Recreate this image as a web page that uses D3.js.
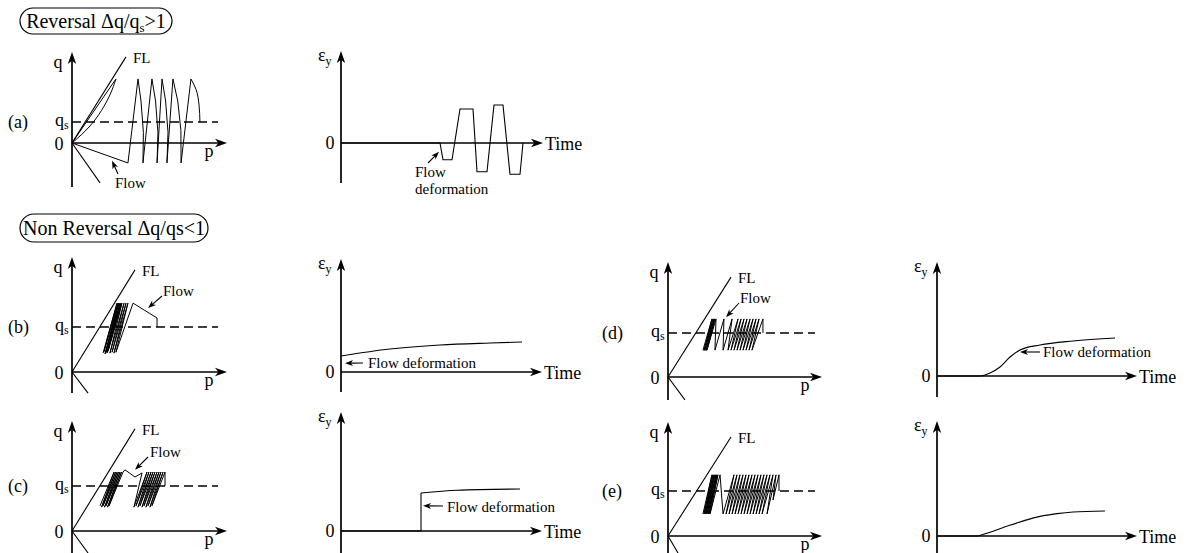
<!DOCTYPE html>
<html>
<head>
<meta charset="utf-8">
<script src="https://cdn.jsdelivr.net/npm/d3@7"></script>
<style>
  html, body { margin: 0; padding: 0; background: #fff; }
  svg { display: block; font-family: "Liberation Serif", "Times New Roman", serif; }
</style>
</head>
<body>
<svg id="fig" width="1189" height="553"></svg>
<script>
// ---------------------------------------------------------------------------
// Data: stress paths in the q–p plane (p in arbitrary units 0–100, q as q/qs)
// and strain histories (time 0–100, strain in arbitrary units).
// ---------------------------------------------------------------------------
const panelNames = ["(a)", "(b)", "(c)", "(d)", "(e)"];

// end point of the failure line FL, per panel
const failureLineP = [36, 42, 42, 42, 42];
const failureLineQ = [4.1, 2.27, 2.27, 2.27, 2.2];

// short line drawn below the origin, per panel
const lowerLineP = [18.7, 10.7, 10.7, 11.3, 6.7];
const lowerLineQ = [-1.9, -0.47, -0.49, -0.52, -0.38];

// (a) reversal loading
const pathA_straight = [[0, 0], [29.3, 3.05]];
const pathA_curved = [[0, 0], [12, 0.75], [20, 1.55], [26, 2.35], [29.3, 3.05]];
const pathA_cycles = [
  [0, 0], [37.3, -0.95], [44, 3.05], [46, 2.0], [47.6, 0.5], [47.3, -0.95],
  [53.3, 3.05], [55.7, 2.0], [57.3, 0.5], [56.7, -0.95],
  [60, 3.05], [62.4, 2.0], [64, 0.5], [63.3, -0.95],
  [67.3, 3.05], [70.5, 2.0], [72.6, 0.6], [72.7, -0.95], [79.3, 3.05]
];
const pathA_end = [[79.3, 3.05], [82.7, 2.55], [84.7, 1.8], [85.3, 1.0]];

// (b) non reversal, flow after a few cycles
const pathB = [
  [20.7, 0.42], [30, 1.53], [21.3, 0.45], [30.7, 1.53], [22, 0.40], [31.3, 1.53],
  [22.7, 0.44], [32, 1.53], [23.3, 0.42], [32.7, 1.53], [24, 0.46], [33.3, 1.53],
  [25.3, 0.42], [34.7, 1.53], [26.7, 0.44], [36, 1.53], [28, 0.42], [37.3, 1.53],
  [29.3, 0.44], [40.7, 1.53], [56.7, 1.2], [56.7, 1.0]
];

// (c) non reversal, flow in the middle of loading
const pathC = [
  [18.7, 0.56], [28, 1.31], [19.7, 0.53], [29, 1.31], [20.7, 0.56], [30, 1.31],
  [21.7, 0.53], [31, 1.31], [22.7, 0.56], [32, 1.31], [23.7, 0.53], [33, 1.31],
  [24.7, 0.56], [34, 1.31], [35.3, 1.36], [42, 1.2], [46.7, 1.29],
  [41.3, 0.53], [50, 1.31], [42.7, 0.56], [51.3, 1.31], [44, 0.53], [52.7, 1.31],
  [45.3, 0.56], [54, 1.31], [46.7, 0.53], [55.3, 1.31], [48, 0.56], [56.7, 1.31],
  [49.3, 0.53], [58, 1.31], [50.7, 0.56], [59.3, 1.31], [52, 0.53], [60.7, 1.31],
  [53.3, 0.56], [62, 1.31], [62, 1.0]
];

// (d) non reversal, gradual flow
const pathD = [
  [23.3, 0.61], [29.3, 1.32], [24, 0.6], [30, 1.32], [24.7, 0.62], [30.7, 1.32],
  [25.3, 0.6], [31.3, 1.32], [26, 0.61], [32, 1.32], [31.3, 0.61], [37.3, 1.32],
  [36.7, 0.61], [42.7, 1.32], [40, 0.61], [46.7, 1.32], [42, 0.61], [48.7, 1.32],
  [44, 0.61], [50.7, 1.32], [46, 0.61], [52.7, 1.32], [48, 0.61], [54.7, 1.32],
  [50, 0.61], [56.7, 1.32], [52, 0.61], [58.7, 1.32], [54, 0.61], [60.7, 1.32],
  [56, 0.61], [63.3, 1.32], [63.3, 1.0]
];

// (e) non reversal, no distinct flow
const pathE = [
  [23.3, 0.49], [29.3, 1.36], [24, 0.49], [30, 1.36], [24.7, 0.49], [30.7, 1.36],
  [25.3, 0.49], [31.3, 1.36], [26, 0.49], [32, 1.36], [26.7, 0.49], [32.7, 1.36],
  [27.3, 0.49], [33.3, 1.36], [28, 0.49], [34.7, 1.36],
  [36.7, 0.49], [44, 1.36], [38.7, 0.49], [46, 1.36], [40.7, 0.49], [48, 1.36],
  [42.7, 0.49], [50, 1.36], [44.7, 0.49], [52, 1.36], [46.7, 0.49], [54, 1.36],
  [48.7, 0.49], [56, 1.36], [50.7, 0.49], [58, 1.36], [52.7, 0.49], [60, 1.36],
  [54.7, 0.49], [62, 1.36], [56.7, 0.49], [64, 1.36], [58.7, 0.49], [66, 1.36],
  [60.7, 0.49], [68, 1.36], [62.7, 0.49], [70, 1.36], [66, 0.49], [72, 1.36],
  [70, 0.8], [74, 1.36], [74, 1.0]
];

// strain histories [time, strain]
const strainA = [
  [0, 0], [49.5, 0], [51, -0.42], [55.5, -0.42], [59.5, 0.85], [66, 0.85],
  [68, -0.72], [73, -0.72], [76.5, 0.95], [81, 0.95], [84.5, -0.78], [89.5, -0.78], [91, 0]
];
const strainB = [[0, 0.4], [24.5, 0.575], [49.5, 0.675], [74.5, 0.725], [90.5, 0.75]];
const strainC_jump = [[0, 0], [40, 0], [40, 0.95]];
const strainC_rest = [[40, 0.95], [58, 1.02], [89.5, 1.05]];
const strainD = [
  [0, 0], [21.5, 0], [26.5, 0.075], [31.5, 0.225], [36.5, 0.475], [41.5, 0.65],
  [51.5, 0.775], [68, 0.875], [89, 0.95]
];
const strainE_flat = [[0, 0], [20.5, 0]];
const strainE_rise = [[20.5, 0], [28, 0.12], [36, 0.26], [44, 0.39], [51.5, 0.49], [60, 0.56], [68, 0.6], [84, 0.625]];

// ---------------------------------------------------------------------------
const svg = d3.select("#fig");
const FONT = 18;

function arrowHead(g, x, y, angle, len = 12, hw = 4.2) {
  const notch = len * 0.72;
  g.append("path")
    .attr("d", `M0,0 L${-len},${-hw} L${-notch},0 L${-len},${hw} Z`)
    .attr("transform", `translate(${x},${y}) rotate(${angle})`)
    .attr("fill", "#000");
}

function noteArrow(g, x1, y1, x2, y2) {
  const ang = Math.atan2(y2 - y1, x2 - x1) * 180 / Math.PI;
  const len = Math.hypot(x2 - x1, y2 - y1);
  const ux = (x2 - x1) / len, uy = (y2 - y1) / len;
  g.append("line").attr("x1", x1).attr("y1", y1)
    .attr("x2", x2 - ux * 5).attr("y2", y2 - uy * 5)
    .attr("stroke", "#000").attr("stroke-width", 1.1);
  arrowHead(g, x2, y2, ang, 8, 3);
}

function text(g, x, y, s, size = FONT, anchor = "start") {
  return g.append("text").attr("x", x).attr("y", y)
    .attr("font-size", size).attr("text-anchor", anchor).text(s);
}

function titleBox(x, y, w, h, build) {
  const g = svg.append("g");
  g.append("rect").attr("x", x).attr("y", y).attr("width", w).attr("height", h)
    .attr("rx", h / 2).attr("ry", h / 2)
    .attr("fill", "none").attr("stroke", "#000").attr("stroke-width", 1.2);
  const t = g.append("text").attr("x", x + w / 2).attr("y", y + h / 2 + 7)
    .attr("font-size", 20).attr("text-anchor", "middle");
  build(t);
}

// q–p panel
function qpPanel(i, L, paths) {
  const g = svg.append("g");
  const x = d3.scaleLinear().domain([0, 100]).range([L.ox, L.ox + 150]);
  const y = d3.scaleLinear().domain([0, 1]).range([L.oy, L.qsY]);
  const line = d3.line().x(d => x(d[0])).y(d => y(d[1]));

  // axes
  g.append("line").attr("x1", x(0)).attr("x2", x(0)).attr("y1", L.bottom).attr("y2", L.top + 6)
    .attr("stroke", "#000").attr("stroke-width", 1.7);
  arrowHead(g, x(0), L.top, -90);
  g.append("line").attr("x1", x(0)).attr("x2", L.pTip - 6).attr("y1", y(0)).attr("y2", y(0))
    .attr("stroke", "#000").attr("stroke-width", 1.7);
  arrowHead(g, L.pTip, y(0), 0);

  // q_s level
  g.append("line").attr("x1", x(0)).attr("x2", L.dashEnd).attr("y1", y(1)).attr("y2", y(1))
    .attr("stroke", "#000").attr("stroke-width", 1.3).attr("stroke-dasharray", "9,5");

  // failure line and lower line
  g.append("path").attr("d", line([[0, 0], [failureLineP[i], failureLineQ[i]]]))
    .attr("fill", "none").attr("stroke", "#000").attr("stroke-width", 1.1);
  g.append("path").attr("d", line([[0, 0], [lowerLineP[i], lowerLineQ[i]]]))
    .attr("fill", "none").attr("stroke", "#000").attr("stroke-width", 1.1);

  // stress paths
  paths.forEach(p => {
    g.append("path").attr("d", line.curve(p.curve || d3.curveLinear)(p.data))
      .attr("fill", "none").attr("stroke", "#000").attr("stroke-width", 1)
      .attr("stroke-linejoin", "round");
  });
  line.curve(d3.curveLinear);

  // labels
  text(g, x(0) - 14, L.top + 16, "q", FONT, "middle");
  const qs = text(g, x(0) - 17, y(1) + 4, "q");
  qs.append("tspan").attr("font-size", 12).attr("dy", 3).text("s");
  text(g, x(0) - 13, y(0) + 7, "0", FONT, "middle");
  text(g, x(0) + 137, y(0) + 14, "p", FONT, "middle");
  text(g, x(failureLineP[i]) + 7, y(failureLineQ[i]) + 6, "FL", 15);
  text(g, L.labelX, y(1) + 6, panelNames[i]);
  return { g, x, y };
}

// strain–time panel
function strainPanel(L, series) {
  const g = svg.append("g");
  const x = d3.scaleLinear().domain([0, 100]).range([L.ox, L.ox + 200]);
  const y = d3.scaleLinear().domain([0, 1]).range([L.oy, L.oy - 40]);
  const line = d3.line().x(d => x(d[0])).y(d => y(d[1]));

  g.append("line").attr("x1", x(0)).attr("x2", x(0)).attr("y1", L.bottom).attr("y2", L.top + 6)
    .attr("stroke", "#000").attr("stroke-width", 1.7);
  arrowHead(g, x(0), L.top, -90);
  g.append("line").attr("x1", x(0)).attr("x2", L.tip - 6).attr("y1", y(0)).attr("y2", y(0))
    .attr("stroke", "#000").attr("stroke-width", 1.7);
  arrowHead(g, L.tip, y(0), 0);

  series.forEach(s => {
    g.append("path").attr("d", line.curve(s.curve || d3.curveLinear)(s.data))
      .attr("fill", "none").attr("stroke", "#000").attr("stroke-width", 1.1);
  });

  const eps = text(g, x(0) - 23, L.top + 10, "ε");
  eps.append("tspan").attr("font-size", 12).attr("dy", 4).text("y");
  text(g, x(0) - 11, y(0) + 6, "0", FONT, "middle");
  text(g, L.tip + 2, y(0) + 7, "Time");
  return { g, x, y };
}

// ---------------------------------------------------------------------------
// Headers
titleBox(20, 8, 152, 26, t => {
  t.append("tspan").text("Reversal Δq/q");
  t.append("tspan").attr("font-size", 13).attr("dy", 4).text("s");
  t.append("tspan").attr("dy", -4).text(">1");
});
titleBox(20, 214, 188, 28, t => t.text("Non Reversal Δq/qs<1"));

// Layouts of the q–p panels
const layA = { ox: 72, oy: 143, qsY: 122, top: 52, bottom: 187, pTip: 227, dashEnd: 218, labelX: 8 };
const layB = { ox: 72, oy: 372, qsY: 327, top: 257, bottom: 393, pTip: 227, dashEnd: 218, labelX: 8 };
const layC = { ox: 72, oy: 531, qsY: 486, top: 421, bottom: 553, pTip: 227, dashEnd: 218, labelX: 8 };
const layD = { ox: 668, oy: 377, qsY: 333, top: 262, bottom: 400, pTip: 822, dashEnd: 815, labelX: 602 };
const layE = { ox: 668, oy: 536, qsY: 491, top: 422, bottom: 553, pTip: 822, dashEnd: 815, labelX: 602 };

const A = qpPanel(0, layA, [
  { data: pathA_straight },
  { data: pathA_curved, curve: d3.curveBasis },
  { data: pathA_cycles },
  { data: pathA_end, curve: d3.curveMonotoneY }
]);
text(A.g, 115, 188, "Flow", 15);
noteArrow(A.g, 118, 174, A.x(26.7), A.y(-0.85));

const B = qpPanel(1, layB, [{ data: pathB }]);
text(B.g, 163, 296, "Flow", 15);
noteArrow(B.g, 162, 296, B.x(50.7), B.y(1.42));

const C = qpPanel(2, layC, [{ data: pathC }]);
text(C.g, 150, 457, "Flow", 15);
noteArrow(C.g, 148, 457, C.x(42), C.y(1.36));

const D = qpPanel(3, layD, [{ data: pathD }]);
text(D.g, 740, 303, "Flow", 15);
noteArrow(D.g, 739, 303, D.x(38.7), D.y(1.36));

qpPanel(4, layE, [{ data: pathE }]);

// Strain panels
const SA = strainPanel({ ox: 341, oy: 143, top: 51, bottom: 183, tip: 543 }, [{ data: strainA }]);
text(SA.g, 415, 177, "Flow", 15);
text(SA.g, 415, 194, "deformation", 15);
noteArrow(SA.g, 428, 163, SA.x(49), SA.y(-0.22));

const SB = strainPanel({ ox: 341, oy: 372, top: 259, bottom: 392, tip: 542 }, [{ data: strainB, curve: d3.curveMonotoneX }]);
text(SB.g, 368, 368, "Flow deformation", 15);
noteArrow(SB.g, 363, 363, SB.x(2), SB.y(0.22));

const SC = strainPanel({ ox: 341, oy: 531, top: 412, bottom: 553, tip: 542 }, [
  { data: strainC_jump }, { data: strainC_rest, curve: d3.curveMonotoneX }
]);
text(SC.g, 447, 512, "Flow deformation", 15);
noteArrow(SC.g, 443, 506, SC.x(41), SC.y(0.63));

const SD = strainPanel({ ox: 937, oy: 376, top: 262, bottom: 397, tip: 1137 }, [{ data: strainD, curve: d3.curveMonotoneX }]);
text(SD.g, 1043, 357, "Flow deformation", 15);
noteArrow(SD.g, 1040, 352, SD.x(41.5), SD.y(0.6));

strainPanel({ ox: 937, oy: 536, top: 421, bottom: 553, tip: 1137 }, [
  { data: strainE_flat }, { data: strainE_rise, curve: d3.curveMonotoneX }
]);
</script>
</body>
</html>
